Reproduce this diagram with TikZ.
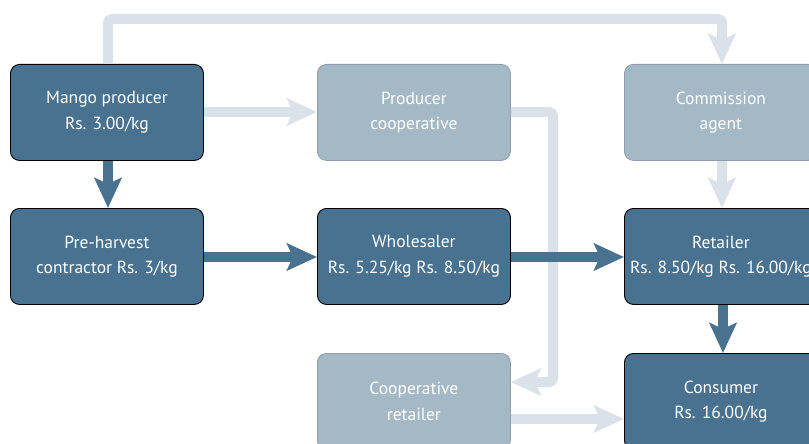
\documentclass[tikz,border=0pt]{standalone}
\usepackage{fontspec}
\setmainfont{PT Sans}
\usetikzlibrary{arrows.meta}
\definecolor{darkbox}{HTML}{48728F}
\definecolor{lightbox}{HTML}{A5B8C6}
\definecolor{lightline}{HTML}{DAE1E8}
\definecolor{lightedge}{HTML}{8E9DA8}
\begin{document}
\begin{tikzpicture}[x=1pt,y=-1pt,
  box/.style={rounded corners=9pt, minimum width=193pt, minimum height=96pt,
    inner sep=0pt, text=white, align=center,
    font=\fontsize{17.5}{25.5}\selectfont, anchor=north west},
  mainbox/.style={box, fill=darkbox, draw=black, line width=0.9pt},
  sidebox/.style={box, fill=lightbox, draw=lightedge, line width=0.8pt},
  mainflow/.style={draw=darkbox, line width=10pt,
    -{Stealth[length=30pt,width=27pt,inset=6pt]}},
  sideflow/.style={draw=lightline, line width=10pt, rounded corners=4pt,
    -{Stealth[length=30pt,width=27pt,inset=6pt]}},
]
\useasboundingbox (0,0) rectangle (809,444);
\clip (0,0) rectangle (809,444);

% nodes
\node[mainbox] (mango) at (10,64) {Mango producer\\Rs. 3.00/kg};
\node[sidebox] (pcoop) at (317,64) {Producer\\cooperative};
\node[sidebox] (agent) at (624,64) {Commission\\agent};
\node[mainbox] (pre) at (10,208) {Pre-harvest\\contractor Rs. 3/kg};
\node[mainbox] (whole) at (317,208) {Wholesaler\\Rs. 5.25/kg Rs. 8.50/kg};
\node[mainbox] (retail) at (624,208) {Retailer\\Rs. 8.50/kg Rs. 16.00/kg};
\node[sidebox] (cretail) at (317,353) {Cooperative\\retailer};
\node[mainbox] (cons) at (624,353) {Consumer\\Rs. 16.00/kg};

% secondary flows
\draw[sideflow] (mango.north west -| 108,0) |- (722,19) -- (agent.north west -| 722,0);
\draw[sideflow] (mango.east |- 0,112) -- (pcoop.west |- 0,112);
\draw[sideflow] (pcoop.east |- 0,112) -| (553,382) -- (cretail.east |- 0,382);
\draw[sideflow] (agent.south west -| 722,0) -- (retail.north west -| 722,0);
\draw[sideflow] (cretail.east |- 0,419) -- (cons.west |- 0,419);

% main flows
\draw[mainflow] (mango.south west -| 108,0) -- (pre.north west -| 108,0);
\draw[mainflow] (pre.east |- 0,257) -- (whole.west |- 0,257);
\draw[mainflow] (whole.east |- 0,257) -- (retail.west |- 0,257);
\draw[mainflow] (retail.south west -| 723,0) -- (cons.north west -| 723,0);
\end{tikzpicture}
\end{document}
